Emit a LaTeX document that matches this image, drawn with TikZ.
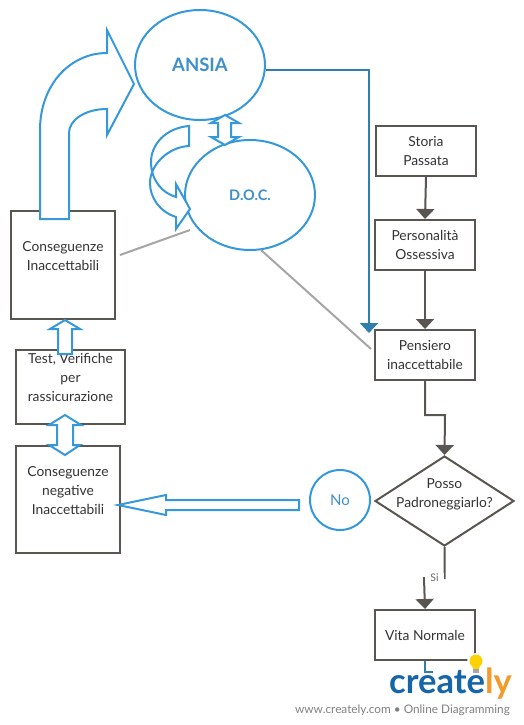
\documentclass[tikz,border=0pt]{standalone}
\usepackage{fontspec}
\setmainfont{Lato}
\usetikzlibrary{arrows.meta, shapes.geometric}

\definecolor{scuro}{HTML}{595550}
\definecolor{azzurro}{HTML}{3498DB}
\definecolor{azzurrotxt}{HTML}{3F8FCB}
\definecolor{linkblu}{HTML}{2F7FAE}
\definecolor{grigio}{HTML}{A5A5A5}
\definecolor{logoblu}{HTML}{1565A8}
\definecolor{logoarancio}{HTML}{F39A2B}

\begin{document}
\begin{tikzpicture}[x=1pt, y=-1pt,
		>={Triangle[length=10pt, width=18pt]},   %arrow tips of the flow
		box/.style={draw=scuro, line width=2pt, fill=white, align=center, inner sep=0pt, minimum width=#1},
		flow/.style={->, draw=scuro, line width=2pt},
		block/.style={draw=azzurro, line width=2pt, fill=white, line join=miter},
		bubble/.style={ellipse, draw=azzurro, line width=2pt, fill=white, inner sep=0pt, text=azzurrotxt, minimum width=#1},
		font=\fontsize{13.8}{19}\selectfont\color{black!80}]
		\useasboundingbox (0,0) rectangle (524,725);
		% right column
		\node[box=100pt, minimum height=50pt] (storia) at (426,151) {Storia\\Passata};
		\node[box=100pt, minimum height=50pt] (perso) at (425,245) {Personalità\\Ossessiva};
		\node[box=100pt, minimum height=50pt] (pens) at (425,355) {Pensiero\\inaccettabile};
		\node[diamond, draw=scuro, line width=2pt, inner sep=0pt, aspect=1.54, minimum width=139pt, minimum height=90pt] (dia) at (444.5,501) {};
		\node[align=center] (dialabel) at (444.5,494) {Posso\\Padroneggiarlo?};
		\node[box=100pt, minimum height=50pt] (vita) at (425,635) {Vita Normale};
		% left column
		\node[box=104pt, minimum height=108pt] (cons) at (63,265) {Conseguenze\\Inaccettabili\\\mbox{}};
		\node[box=109pt, minimum height=74pt] (test) at (70.5,387) {Test, Verifiche\\per\\rassicurazione\\\mbox{}};
		\node[box=104pt, minimum height=107pt] (neg) at (68,499.5) {Conseguenze\\negative\\Inaccettabili\\\mbox{}};
		% bubbles
		\node[bubble=130pt, minimum height=110pt, font=\fontsize{18.5}{22}\selectfont\bfseries] (ansia) at (200,65) {ANSIA};
		\node[bubble=130pt, minimum height=110pt, font=\fontsize{14.5}{18}\selectfont\bfseries] (doc) at (250,195) {D.O.C.};
		\node[bubble=60pt, minimum height=60pt, font=\fontsize{15}{18}\selectfont] (no) at (340,500) {No};
		% free ends
		\coordinate (pensin) at (369,333);
		\coordinate (jog) at (445,415);
		\coordinate (jogb) at (424,578);
		\coordinate (stub) at (433,672);
		\coordinate (ga) at (120,255);
		\coordinate (gb) at (190,230);
		\coordinate (gc) at (261,250);
		\coordinate (gd) at (371,349);
		% connectors
		\draw[flow] (storia.south) -- (perso.north);
		\draw[flow] (perso.south) -- (pens.north);
		\draw[flow] (pens.south) |- (jog) -- (dia.north);
		\draw[flow] (dia.south) |- (jogb) -- (vita.north);
		\node[fill=white, inner sep=1pt, minimum width=19pt, font=\fontsize{10.5}{12}\selectfont\color{black!60}] (si) at (434.5,578) {Si};
		\draw[->, draw=linkblu, line width=2pt] (ansia.-4) -| (pensin);
		\draw[grigio, line width=2pt] (ga) -- (gb);
		\draw[grigio, line width=2pt] (gc) -- (gd);
		\draw[linkblu, line width=2pt] (vita.south) |- (stub);
		% block arrows
		\draw[block] (40,219) -- (40,130) .. controls (40,85) and (70,53) .. (107,53) -- (107,30) -- (134,84) -- (107,135) -- (107,109)
			.. controls (85,109) and (69,120) .. (69,133) -- (69,219) -- cycle;
		\draw[block] (189,126) .. controls (165,128) and (151,145) .. (151,162) .. controls (151,180) and (162,193) .. (176,197) -- (176,184) -- (190,209) -- (176,229) -- (176,217)
			.. controls (160,212) and (150,198) .. (150,183) .. controls (150,165) and (168,147) .. (189,146) -- cycle;
		\draw[block] (225,115) -- (239,123) -- (231,123) -- (231,137) -- (239,137) -- (225,145) -- (211,137) -- (218,137) -- (218,123) -- (211,123) -- cycle;
		\draw[block] (65,320) -- (80,329) -- (72,329) -- (72,354) -- (58,354) -- (58,329) -- (50,329) -- cycle;
		\draw[block] (65,415) -- (81,425) -- (73,425) -- (73,445) -- (80,445) -- (65,455) -- (49,445) -- (57,445) -- (57,425) -- (49,425) -- cycle;
		\draw[block] (118,505) -- (166,495) -- (166,500) -- (299,500) -- (299,510) -- (166,510) -- (166,515) -- cycle;
		% logo
		\fill[white] (476,662) circle [radius=9];
		\fill[fill=yellow!70!orange] (476,661) circle [radius=6.5];
		\fill[fill=yellow!70!orange] (472,665) -- (480,665) -- (479,669) -- (473,669) -- cycle;
		\fill[gray!70] (473,669) rectangle (479,673);
		\node[anchor=base west, inner sep=0pt, font=\fontsize{34.5}{40}\selectfont\bfseries] (logo) at (389,693) {\textcolor{logoblu}{create}\textcolor{logoarancio}{ly}};
		\node[anchor=base east, inner sep=0pt, font=\fontsize{11.8}{14}\selectfont\color{gray}] (web) at (510,713) {www.creately.com • Online Diagramming};
\end{tikzpicture}
\end{document}
